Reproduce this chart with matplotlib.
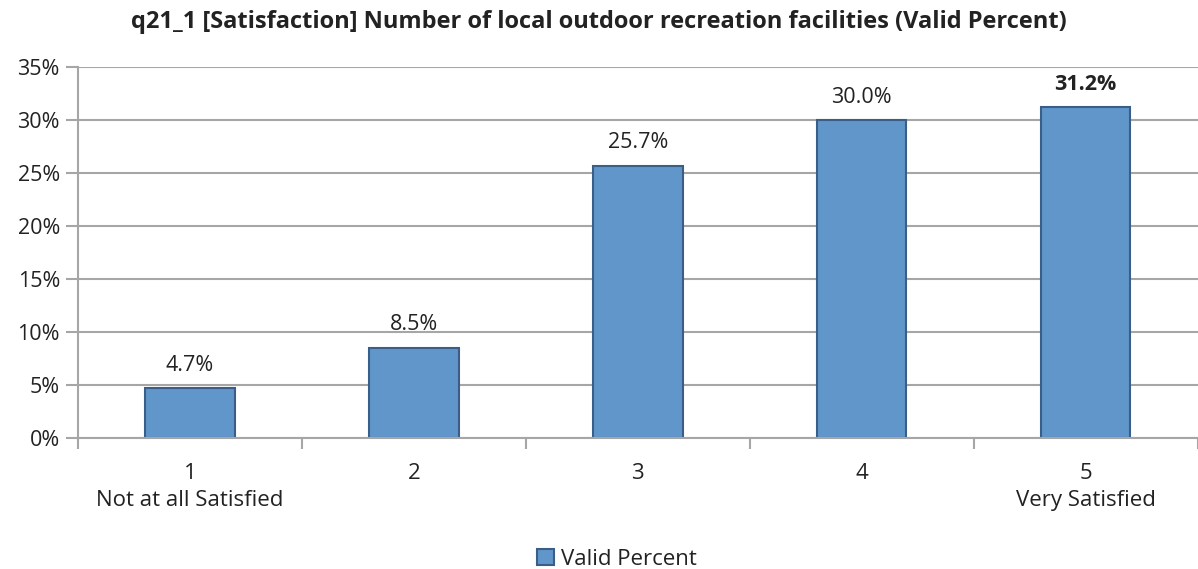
import matplotlib
matplotlib.use('Agg')
import matplotlib.pyplot as plt
import numpy as np

plt.rcParams['font.family'] = ['Open Sans', 'DejaVu Sans']

# ----------------------------------------------- #
# -------------- Data --------------------------- #
# ----------------------------------------------- #
categories = ['1\nNot at all Satisfied', '2', '3', '4', '5\nVery Satisfied']
valid_percent = [4.7, 8.5, 25.7, 30.0, 31.2]
y_ticks = [0, 5, 10, 15, 20, 25, 30, 35]
title = 'q21_1 [Satisfaction] Number of local outdoor recreation facilities (Valid Percent)'
series_name = 'Valid Percent'

bar_color = '#6096CA'
edge_color = '#3B5E86'
grid_color = '#A6A6A6'

# ----------------------------------------------- #
# -------------- FIGURE PLOT -------------------- #
# ----------------------------------------------- #
figure = plt.figure(figsize=(11.98, 5.69), dpi=100)
ax = figure.add_axes([0.0651, 0.2302, 0.9345, 0.652])

x = np.arange(len(categories))
bars = ax.bar(x, valid_percent, width=0.4, color=bar_color, edgecolor=edge_color,
              linewidth=1.5, zorder=3, label=series_name)

ax.set_xlim(-0.5, len(categories) - 0.5)
ax.set_ylim(0, 35)
ax.set_yticks(y_ticks)
ax.set_yticklabels(['%d%%' % v for v in y_ticks], fontsize=15.5, color='#222222')
ax.yaxis.grid(True, color=grid_color, linewidth=1.5, zorder=0)

# x axis: category labels between boundary ticks
ax.set_xticks(x)
ax.set_xticklabels(categories, fontsize=16, linespacing=1.4, color='#222222')
ax.tick_params(axis='x', length=0, pad=18)
ax.set_xticks(np.arange(-0.5, len(categories), 1), minor=True)
ax.tick_params(axis='x', which='minor', length=8, width=1.5, color=grid_color, direction='out')
ax.tick_params(axis='y', length=9, width=1.5, color=grid_color, pad=4)

for side in ['top', 'right']:
  ax.spines[side].set_visible(False)
for side in ['left', 'bottom']:
  ax.spines[side].set_color(grid_color)
  ax.spines[side].set_linewidth(1.5)
ax.spines['bottom'].set_zorder(4)

max_val = max(valid_percent)
for rect, v in zip(bars, valid_percent):
  ax.annotate('%.1f%%' % v, (rect.get_x() + rect.get_width() / 2, v),
              xytext=(0, 9), textcoords='offset points', ha='center', va='bottom',
              fontsize=15.5, color='#222222',
              fontweight='bold' if v == max_val else 'normal')

figure.text(0.5, 0.961, title, ha='center', va='center', fontsize=17, fontweight='bold',
            color='#222222')

figure.legend(handles=[bars], labels=[series_name], loc='center',
              bbox_to_anchor=(0.515, 0.017), frameon=False, fontsize=16,
              handlelength=0.75, handleheight=0.75, handletextpad=0.3,
              labelcolor='#222222')

plt.savefig('out.png', dpi=100)
